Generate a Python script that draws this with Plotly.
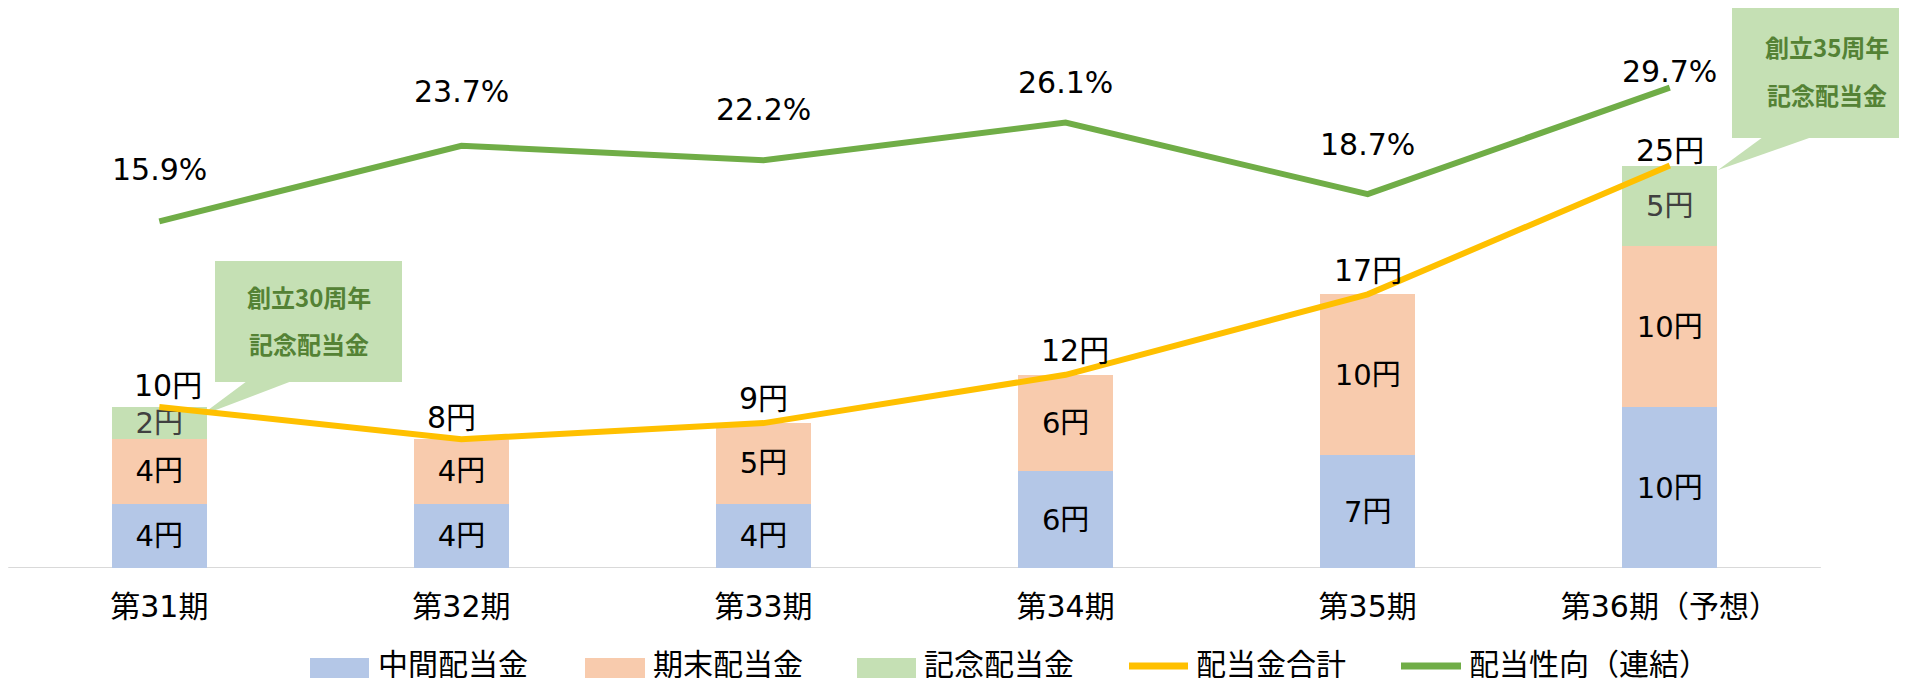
import plotly.graph_objects as go

# ---------------- data ----------------
categories = ["第31期", "第32期", "第33期", "第34期", "第35期", "第36期（予想）"]
interim = [4, 4, 4, 6, 7, 10]          # 中間配当金
year_end = [4, 4, 5, 6, 10, 10]        # 期末配当金
commemorative = [2, 0, 0, 0, 0, 5]     # 記念配当金
total = [10, 8, 9, 12, 17, 25]         # 配当金合計
payout_ratio = [15.9, 23.7, 22.2, 26.1, 18.7, 29.7]  # 配当性向（連結）
series_names = ["中間配当金", "期末配当金", "記念配当金", "配当金合計", "配当性向（連結）"]
callout_texts = [["創立30周年", "記念配当金"], ["創立35周年", "記念配当金"]]

# ---------------- styling / layout ----------------
W, H = 1907, 678
OFF = 8                      # page body margin
FONT_CJK = "Noto Sans CJK JP"
FONT_NUM = "DejaVu Sans, Noto Sans CJK JP"
C_BLUE, C_ORANGE, C_LGREEN = "#B4C7E7", "#F8CBAD", "#C5E0B4"
C_YELLOW, C_GREEN, C_DKGREEN = "#FFC000", "#70AD47", "#548235"

# geometry measured in page pixels
BASE_PX = 568.0
PX_PER_YEN = 16.1
PCT_ZERO_PX = 375.4
PX_PER_PCT = 9.69
X0_PX, STEP_PX = 159.3, 302.1
BAR_W = 0.314
PLOT_BOTTOM = BASE_PX - OFF  # in figure pixels

def px_x(px):
    return (px - X0_PX) / STEP_PX

def px_y(py):
    return (BASE_PX - py) / PX_PER_YEN

def pap_x(px):
    return (px - OFF) / W

def pap_y(py):
    return (BASE_PX - py) / PLOT_BOTTOM

xs = list(range(len(categories)))

def lbl(vals):
    return [f"{v}円" if v else "" for v in vals]

fig = go.Figure()
for vals, col, name, tcol in [(interim, C_BLUE, series_names[0], "#000000"),
                              (year_end, C_ORANGE, series_names[1], "#000000"),
                              (commemorative, C_LGREEN, series_names[2], "#404040")]:
    fig.add_trace(go.Bar(
        x=xs, y=vals, name=name, width=BAR_W,
        marker=dict(color=col, line=dict(width=0)),
        text=lbl(vals), textposition="inside", insidetextanchor="middle",
        constraintext="none", textangle=0,
        textfont=dict(family=FONT_NUM, size=29, color=tcol),
        hoverinfo="skip", showlegend=False))

fig.add_trace(go.Scatter(x=xs, y=total, name=series_names[3], mode="lines",
                         line=dict(color=C_YELLOW, width=6), showlegend=False, hoverinfo="skip"))
fig.add_trace(go.Scatter(x=xs, y=payout_ratio, name=series_names[4], mode="lines", yaxis="y2",
                         line=dict(color=C_GREEN, width=6), showlegend=False, hoverinfo="skip"))

annotations = []
shapes = []

# data labels
total_yshift = [22, 22, 25, 24, 24, 15]
total_xshift = [9, -10, 0, 9, 0, 0]
for i, v in enumerate(total):
    annotations.append(dict(x=i, y=v, xref="x", yref="y", text=f"{v}円", showarrow=False,
                            yanchor="middle", xanchor="center", yshift=total_yshift[i],
                            xshift=total_xshift[i],
                            font=dict(family=FONT_NUM, size=30, color="#000000")))
pct_yshift = [52, 54, 51, 40, 50, 16]
for i, v in enumerate(payout_ratio):
    annotations.append(dict(x=i, y=v, xref="x", yref="y2", text=f"{v:.1f}%", showarrow=False,
                            yanchor="middle", xanchor="center", yshift=pct_yshift[i],
                            font=dict(family=FONT_NUM, size=30, color="#000000")))

# baseline
shapes.append(dict(type="line", xref="x", yref="y", x0=-0.5, x1=5.5, y0=0, y1=0,
                   line=dict(color="#D9D9D9", width=2), layer="below"))

# callouts (page-pixel geometry)
callout_geo = [
    dict(box=(215, 402, 261, 382), base=(247, 292), tip=(200, 416), tx=308.5, ty=(296, 343)),
    dict(box=(1732, 1930, 8, 138), base=(1763, 1812), tip=(1718, 170), tx=1827, ty=(46, 94)),
]
for g, lines in zip(callout_geo, callout_texts):
    bx0, bx1, by0, by1 = g["box"]
    shapes.append(dict(type="rect", xref="x", yref="y", x0=px_x(bx0), x1=px_x(bx1),
                       y0=px_y(by1), y1=px_y(by0), fillcolor=C_LGREEN,
                       line=dict(width=0), layer="below"))
    b0, b1 = g["base"]
    tx_, ty_ = g["tip"]
    path = (f"M {px_x(b0)},{px_y(by1 - 1)} L {px_x(b1)},{px_y(by1 - 1)} "
            f"L {px_x(tx_)},{px_y(ty_)} Z")
    shapes.append(dict(type="path", xref="x", yref="y", path=path, fillcolor=C_LGREEN,
                       line=dict(width=0), layer="below"))
    for t, yy in zip(lines, g["ty"]):
        annotations.append(dict(x=px_x(g["tx"]), y=px_y(yy), xref="x", yref="y", text=f"<b>{t}</b>",
                                showarrow=False, xanchor="center", yanchor="middle",
                                font=dict(family=FONT_CJK, size=24, color=C_DKGREEN)))

# custom legend (page pixels)
legend_items = [
    (series_names[0], "rect", C_BLUE, 310, 369, 376),
    (series_names[1], "rect", C_ORANGE, 585, 645, 651),
    (series_names[2], "rect", C_LGREEN, 857, 916, 922),
    (series_names[3], "line", C_YELLOW, 1129, 1188, 1194),
    (series_names[4], "line", C_GREEN, 1401, 1461, 1467),
]
for name, kind, col, x0, x1, tx in legend_items:
    if kind == "rect":
        shapes.append(dict(type="rect", xref="paper", yref="paper", x0=pap_x(x0), x1=pap_x(x1),
                           y0=pap_y(700), y1=pap_y(658), fillcolor=col, line=dict(width=0)))
    else:
        shapes.append(dict(type="line", xref="paper", yref="paper", x0=pap_x(x0), x1=pap_x(x1),
                           y0=pap_y(666), y1=pap_y(666), line=dict(color=col, width=7)))
    annotations.append(dict(x=pap_x(tx), y=pap_y(664), xref="paper", yref="paper", text=name,
                            showarrow=False, xanchor="left", yanchor="middle",
                            font=dict(family=FONT_NUM, size=30, color="#000000")))

fig.update_layout(
    width=W, height=H,
    margin=dict(l=0, r=0, t=0, b=H - PLOT_BOTTOM, autoexpand=False),
    paper_bgcolor="white", plot_bgcolor="white",
    barmode="stack", showlegend=False,
    font=dict(family=FONT_NUM, color="#000000"),
    xaxis=dict(range=[px_x(OFF), px_x(OFF + W)], tickmode="array", tickvals=xs, ticktext=categories,
               showgrid=False, zeroline=False, showline=False, ticks="outside", ticklen=12,
               tickcolor="rgba(0,0,0,0)", tickfont=dict(family=FONT_NUM, size=30, color="#000000"),
               fixedrange=True),
    yaxis=dict(range=[0, PLOT_BOTTOM / PX_PER_YEN], visible=False, showgrid=False, fixedrange=True),
    yaxis2=dict(range=[(PCT_ZERO_PX - BASE_PX) / PX_PER_PCT, (PCT_ZERO_PX - OFF) / PX_PER_PCT],
                overlaying="y", side="right", visible=False, showgrid=False, fixedrange=True),
    shapes=shapes, annotations=annotations,
)

fig.write_html("out.html")
